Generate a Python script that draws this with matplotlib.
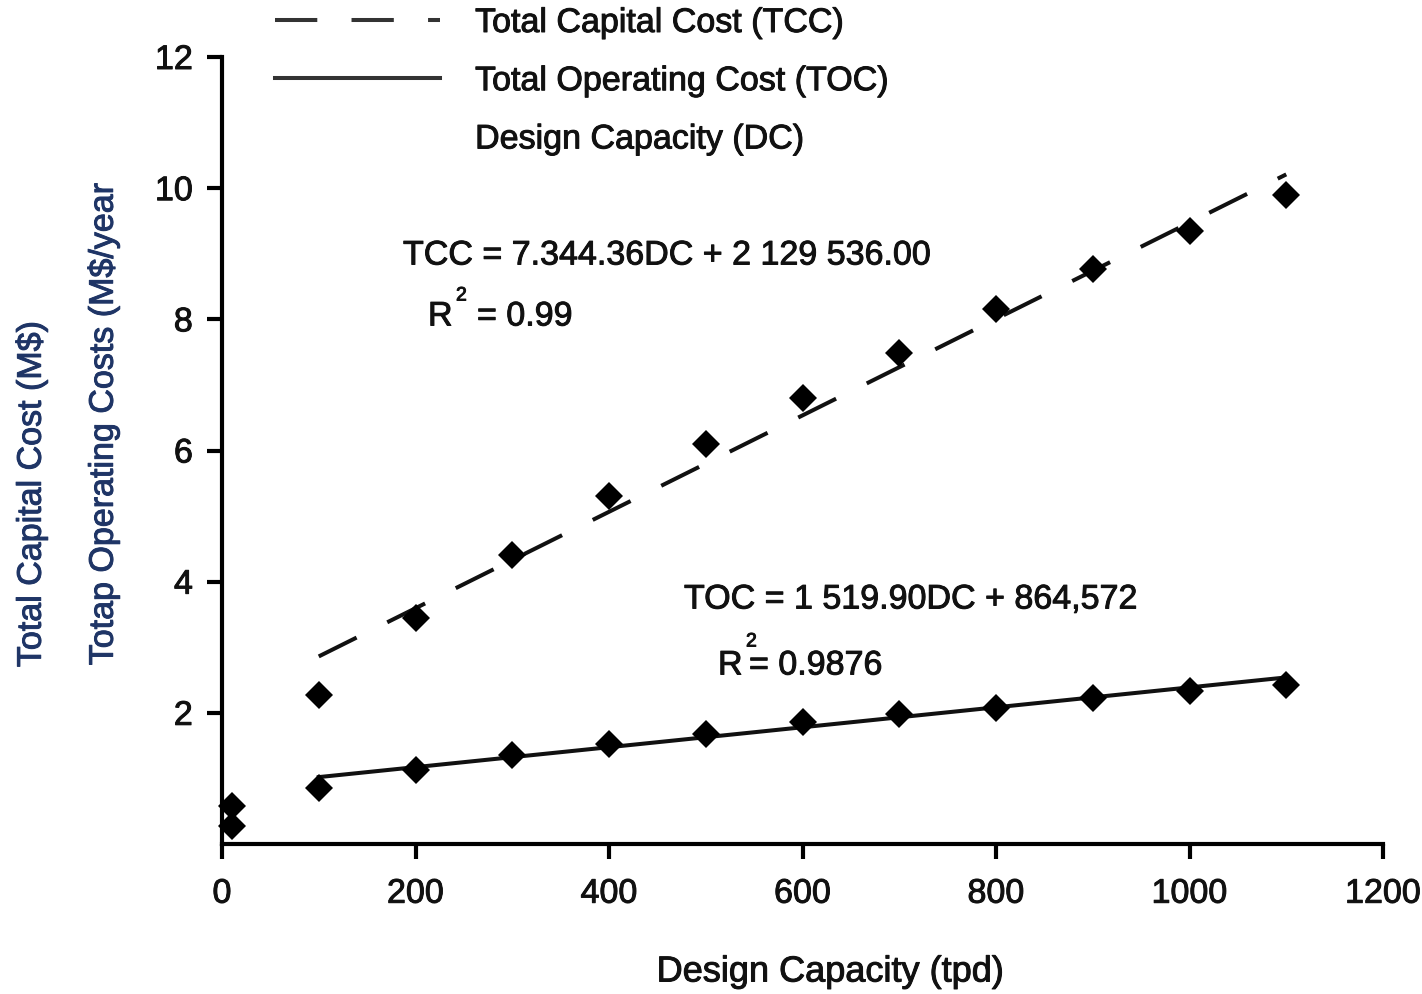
import matplotlib
matplotlib.use("Agg")
import matplotlib.pyplot as plt
import matplotlib.patheffects as pe
from matplotlib.lines import Line2D

# ---- data ----
dc = [10, 100, 200, 300, 400, 500, 600, 700, 800, 900, 1000, 1100]
tcc = [0.58, 2.27, 3.45, 4.40, 5.30, 6.10, 6.80, 7.48, 8.15, 8.76, 9.35, 9.90]
toc = [0.28, 0.85, 1.13, 1.35, 1.52, 1.68, 1.86, 1.98, 2.08, 2.22, 2.33, 2.43]
tcc_fit_x = [100, 1100]
tcc_fit_y = [2.86, 10.21]
toc_fit_x = [100, 1100]
toc_fit_y = [1.02, 2.54]
xticks = [0, 200, 400, 600, 800, 1000, 1200]
yticks = [2, 4, 6, 8, 10, 12]
legend_labels = ["Total Capital Cost (TCC)", "Total Operating Cost (TOC)", "Design Capacity (DC)"]

plt.rcParams['font.family'] = ['Liberation Sans', 'DejaVu Sans']
TXT = '#111111'
YLC = '#1f3566'
FS = 24.5
W, H = 1422, 995

def fx(px):
    return px / W

def fy(py):
    return 1 - py / H

def heavy(color):
    return [pe.withStroke(linewidth=0.7, foreground=color)]

fig = plt.figure(figsize=(W / 100, H / 100), dpi=100)
ax = fig.add_axes([fx(222), fy(845), (1383 - 222) / W, (845 - 58) / H])

LW = 2.9
dash = (0, (10.5, 8.5))
ax.plot(tcc_fit_x, tcc_fit_y, color='#111111', lw=LW, ls=dash, zorder=2)
ax.plot(toc_fit_x, toc_fit_y, color='#111111', lw=LW, ls='-', zorder=2)
ax.plot(dc, tcc, ls='none', marker='D', ms=14, color='black', mew=0, zorder=3, clip_on=False)
ax.plot(dc, toc, ls='none', marker='D', ms=14, color='black', mew=0, zorder=3, clip_on=False)

ax.set_xlim(0, 1200)
ax.set_ylim(0, 12)
ax.set_xticks(xticks)
ax.set_yticks(yticks)
for s in ['top', 'right']:
    ax.spines[s].set_visible(False)
for s in ['left', 'bottom']:
    ax.spines[s].set_linewidth(3)
    ax.spines[s].set_color('black')
ax.tick_params(axis='both', direction='out', length=11, width=3, color='black',
               labelsize=FS, labelcolor=TXT)
ax.tick_params(axis='x', pad=14)
ax.tick_params(axis='y', pad=10)
for lab in ax.get_xticklabels() + ax.get_yticklabels():
    lab.set_path_effects(heavy(TXT))

fig.text(fx(830), fy(973), "Design Capacity (tpd)", fontsize=26, color=TXT, ha='center', va='center',
         path_effects=heavy(TXT))
fig.text(fx(32), fy(495), "Total Capital Cost (M$)", fontsize=FS, color=YLC, rotation=90,
         ha='center', va='center', path_effects=heavy(YLC))
fig.text(fx(104), fy(425), "Totap Operating Costs (M$/year", fontsize=FS, color=YLC, rotation=90,
         ha='center', va='center', path_effects=heavy(YLC))

# regression annotations
ann = dict(color=TXT, ha='left', va='center', path_effects=heavy(TXT))
fig.text(fx(403), fy(257), "TCC = 7.344.36DC + 2 129 536.00", fontsize=FS, **ann)
fig.text(fx(428), fy(318), "R", fontsize=FS, **ann)
fig.text(fx(456), fy(297), "2", fontsize=14, **ann)
fig.text(fx(477), fy(318), "= 0.99", fontsize=FS, **ann)
fig.text(fx(684), fy(601), "TOC = 1 519.90DC + 864,572", fontsize=FS, **ann)
fig.text(fx(718), fy(667), "R", fontsize=FS, **ann)
fig.text(fx(746), fy(643), "2", fontsize=14, **ann)
fig.text(fx(749), fy(667), "= 0.9876", fontsize=FS, **ann)

handles = [Line2D([], [], color='#333333', lw=LW, ls=dash),
           Line2D([], [], color='#333333', lw=LW, ls='-'),
           Line2D([], [], lw=0)]
leg = fig.legend(handles, legend_labels, loc='upper left', bbox_to_anchor=(fx(275), fy(9)),
                 frameon=False, fontsize=FS, handlelength=4.85, handletextpad=1.03,
                 labelspacing=0.8, borderpad=0, borderaxespad=0)
for t in leg.get_texts():
    t.set_color(TXT)
    t.set_path_effects(heavy(TXT))

fig.savefig("out.png", dpi=100)
